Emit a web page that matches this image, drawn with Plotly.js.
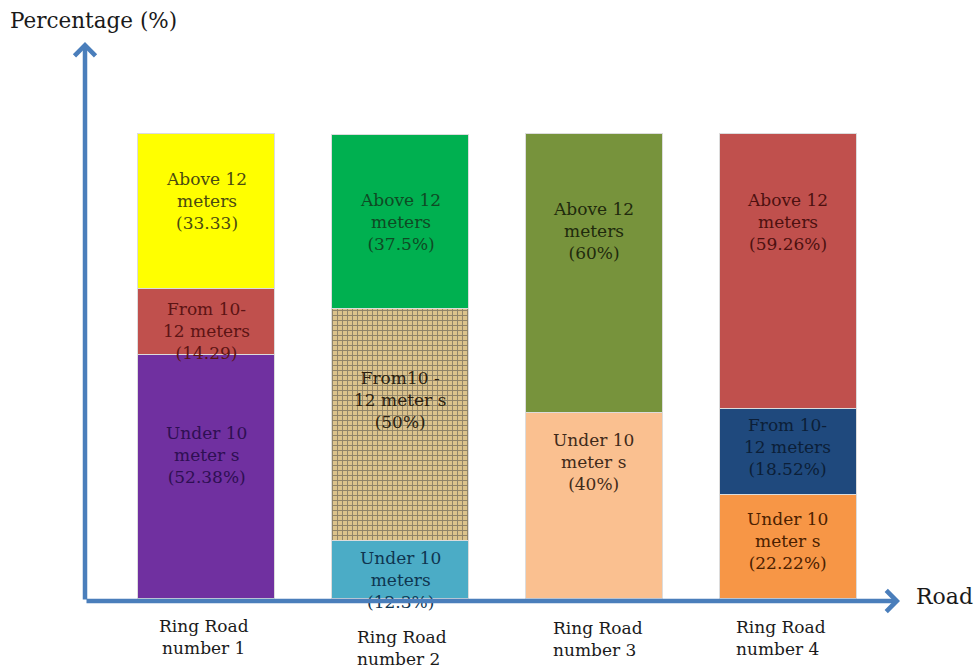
<!DOCTYPE html>
<html><head><meta charset="utf-8">
<script src="https://cdn.plot.ly/plotly-3.0.1.min.js"></script>
<style>html,body{margin:0;padding:0;background:#fff;}#chart{width:977px;height:670px;}</style>
</head><body><div id="chart"></div>
<script>
// ---- data ----
const roads = ["Ring Road number 1", "Ring Road number 2", "Ring Road number 3", "Ring Road number 4"];
const tickLabels = ["Ring Road<br>number 1", "Ring Road<br>number 2", "Ring Road<br>number 3", "Ring Road<br>number 4"];
const under10 = [52.38, 12.3, 40, 22.22];
const from10to12 = [14.29, 50, null, 18.52];
const above12 = [33.33, 37.5, 60, 59.26];
const under10Labels = ["Under 10<br>meter s<br>(52.38%)", "Under 10<br>meters<br>(12.3%)", "Under 10<br>meter s<br>(40%)", "Under 10<br>meter s<br>(22.22%)"];
const from10to12Labels = ["From 10-<br>12 meters<br>(14.29)", "From10 -<br>12 meter s<br>(50%)", "", "From 10-<br>12 meters<br>(18.52%)"];
const above12Labels = ["Above 12<br>meters<br>(33.33)", "Above 12<br>meters<br>(37.5%)", "Above 12<br>meters<br>(60%)", "Above 12<br>meters<br>(59.26%)"];
const yTitle = "Percentage (%)";
const xTitle = "Road";

// ---- styles ----
const AXIS_COLOR = '#4a7ebb';
const SERIF = 'DejaVu Serif, Liberation Serif, serif';
const segStyle = {
  under: {fill: ['#7030a0', '#4bacc6', '#fac090', '#f79646'], pattern: ['', '', '', ''],
          text: ['#2e0f52', '#0f3550', '#3f2a1a', '#4a2000'], shift: [21, -11, 43, 5]},
  from:  {fill: ['#c0504d', '#dcc38c', '#ffffff', '#1f497d'], pattern: ['', '+', '', ''],
          text: ['#5c1414', '#2b1e0e', '#000000', '#0c1f38'], shift: [-10, 25, 0, 5]},
  above: {fill: ['#ffff00', '#00b050', '#77933c', '#c0504d'], pattern: ['', '', '', ''],
          text: ['#4a4a10', '#0f4a24', '#1f2a0d', '#4d1010'], shift: [10, -1, 42, 49]}
};
const tickStyle = {align: ['center', 'left', 'left', 'left'], xshift: [-2, 2, 4, -7], yshift: [-13, -24, -15, -14]};

const series = [
  {key: 'under', values: under10, labels: under10Labels},
  {key: 'from', values: from10to12, labels: from10to12Labels},
  {key: 'above', values: above12, labels: above12Labels}
];

const traces = series.map(s => ({
  type: 'bar', x: roads, y: s.values, hoverinfo: 'skip', showlegend: false,
  marker: {
    color: segStyle[s.key].fill,
    line: {color: '#dcdcdc', width: 1},
    pattern: {shape: segStyle[s.key].pattern, fillmode: 'overlay', fgcolor: '#a68750', size: 5, solidity: 0.35}
  }
}));

const annotations = [];
// segment labels at segment middles
const base = roads.map(() => 0);
series.forEach(s => {
  s.values.forEach((v, i) => {
    if (v == null) return;
    if (s.labels[i]) {
      annotations.push({
        xref: 'x', yref: 'y', x: roads[i], y: base[i] + v / 2, text: s.labels[i], showarrow: false,
        xanchor: 'center', yanchor: 'middle', yshift: segStyle[s.key].shift[i],
        font: {family: SERIF, size: 17, color: segStyle[s.key].text[i]}
      });
    }
    base[i] += v;
  });
});
// category labels
roads.forEach((r, i) => {
  annotations.push({
    xref: 'x', yref: 'paper', x: r, y: 0, text: tickLabels[i], showarrow: false,
    xanchor: 'center', yanchor: 'top', align: tickStyle.align[i],
    xshift: tickStyle.xshift[i], yshift: tickStyle.yshift[i],
    font: {family: SERIF, size: 17, color: '#1a1a1a'}
  });
});
// axis arrows
annotations.push({xref: 'paper', yref: 'paper', x: 0, y: 1 + 6 / 553, ax: 0, ay: 559, text: '', showarrow: true,
  arrowhead: 4, arrowsize: 0.9, arrowwidth: 4.5, arrowcolor: AXIS_COLOR});
annotations.push({xref: 'paper', yref: 'paper', x: 1, y: 0, ax: -815, ay: 0, text: '', showarrow: true,
  arrowhead: 4, arrowsize: 0.9, arrowwidth: 4.5, arrowcolor: AXIS_COLOR});
// x title
annotations.push({xref: 'paper', yref: 'paper', x: 1, y: 0, xanchor: 'left', yanchor: 'middle',
  xshift: 14, yshift: 5, text: xTitle, showarrow: false, font: {family: SERIF, size: 22, color: '#1a1a1a'}});

const layout = {
  width: 977, height: 670,
  margin: {l: 85, r: 77, t: 48, b: 69},
  paper_bgcolor: '#ffffff', plot_bgcolor: '#ffffff',
  barmode: 'stack', bargap: 0.293,
  title: {text: yTitle, xref: 'container', yref: 'container', x: 10 / 977, xanchor: 'left',
          y: 1 - 20 / 670, yanchor: 'middle', font: {family: SERIF, size: 21.5, color: '#1a1a1a'}},
  xaxis: {type: 'category', range: [-0.627, 3.58], showgrid: false, zeroline: false, showline: false,
          showticklabels: false, ticks: '', fixedrange: true},
  yaxis: {range: [-0.645, 118.3], showgrid: false, zeroline: false, showline: false,
          showticklabels: false, ticks: '', fixedrange: true},
  annotations: annotations
};

Plotly.newPlot('chart', traces, layout, {displayModeBar: false, staticPlot: true});
</script>
</body></html>
